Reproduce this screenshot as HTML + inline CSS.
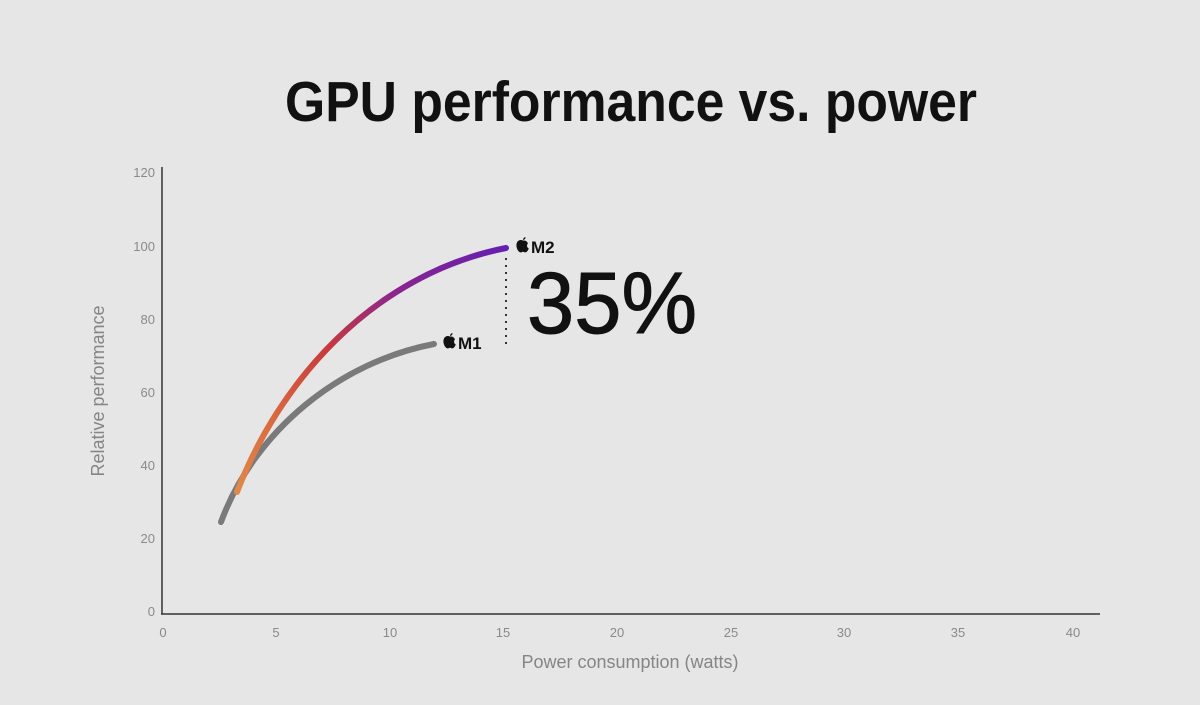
<!DOCTYPE html>
<html><head><meta charset="utf-8"><style>
html,body{margin:0;padding:0;background:#e6e6e6;}
svg{display:block;font-family:"Liberation Sans",sans-serif;}
</style></head><body>
<svg width="1200" height="705" viewBox="0 0 1200 705" xmlns="http://www.w3.org/2000/svg">
<rect width="1200" height="705" fill="#e6e6e6"/>
<defs>
<linearGradient id="g" gradientUnits="userSpaceOnUse" x1="237" y1="492" x2="506" y2="248">
<stop offset="0" stop-color="#e0894a"/>
<stop offset="0.22" stop-color="#d9683f"/>
<stop offset="0.45" stop-color="#c63a3e"/>
<stop offset="0.7" stop-color="#8a2590"/>
<stop offset="1" stop-color="#6420b0"/>
</linearGradient>
<g id="apple">
<path d="M7,3.5 C5,2.5 2.5,3 1.2,5 C-0.5,8 0.8,12.5 2.8,14.5 C3.8,15.5 4.8,15.6 5.8,15.1 C6.6,14.7 7.4,14.7 8.2,15.1 C9.2,15.6 10.2,15.5 11.2,14.3 C11.9,13.5 12.5,12.3 12.8,11.5 C11,10.7 10.3,8 12,6.2 C11.4,5.2 10.2,3.3 7.8,3.5 Z" fill="#111"/>
<path d="M7,3 C7,1.5 8,0.3 9.5,0 C9.6,1.6 8.6,2.8 7,3 Z" fill="#111"/>
</g>
</defs>
<text x="631" y="121" text-anchor="middle" font-size="57" font-weight="bold" fill="#111" textLength="692" lengthAdjust="spacingAndGlyphs">GPU performance vs. power</text>
<line x1="162" y1="167" x2="162" y2="614" stroke="#333" stroke-width="1.5"/>
<line x1="161" y1="614" x2="1100" y2="614" stroke="#333" stroke-width="1.5"/>
<g font-size="13" fill="#8a8a8a" text-anchor="end">
<text x="155" y="616">0</text>
<text x="155" y="543">20</text>
<text x="155" y="470">40</text>
<text x="155" y="397">60</text>
<text x="155" y="324">80</text>
<text x="155" y="251">100</text>
<text x="155" y="177">120</text>
</g>
<g font-size="13" fill="#8a8a8a" text-anchor="middle">
<text x="163" y="637">0</text>
<text x="276" y="637">5</text>
<text x="390" y="637">10</text>
<text x="503" y="637">15</text>
<text x="617" y="637">20</text>
<text x="731" y="637">25</text>
<text x="844" y="637">30</text>
<text x="958" y="637">35</text>
<text x="1073" y="637">40</text>
</g>
<text x="630" y="668" text-anchor="middle" font-size="18" fill="#858585">Power consumption (watts)</text>
<text transform="translate(104,391) rotate(-90)" text-anchor="middle" font-size="18" fill="#858585">Relative performance</text>
<path d="M221,522 C255,430 340,362 434,344" fill="none" stroke="#7a7a7a" stroke-width="6" stroke-linecap="round"/>
<path d="M237,492 C278,385 370,275 506,248" fill="none" stroke="url(#g)" stroke-width="6" stroke-linecap="round"/>
<line x1="506" y1="258" x2="506" y2="346" stroke="#333" stroke-width="2" stroke-dasharray="2,5"/>
<use href="#apple" x="443" y="333"/>
<text x="458" y="349" font-size="17" font-weight="bold" fill="#111">M1</text>
<use href="#apple" x="516" y="237"/>
<text x="531" y="253" font-size="17" font-weight="bold" fill="#111">M2</text>
<text x="527" y="333" font-size="87" fill="#111" stroke="#111" stroke-width="1" textLength="170" lengthAdjust="spacingAndGlyphs">35%</text>
</svg>
</body></html>
